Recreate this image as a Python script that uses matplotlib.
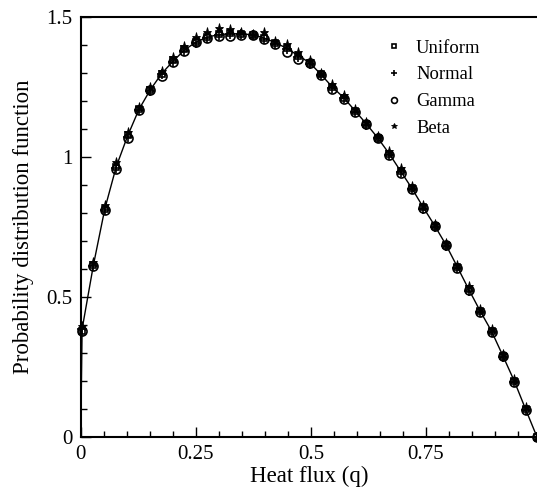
import numpy as np
import matplotlib
matplotlib.use('Agg')
import matplotlib.pyplot as plt
from matplotlib.ticker import MultipleLocator

plt.rcParams['font.family'] = ['Liberation Serif', 'DejaVu Serif']
plt.rcParams['mathtext.fontset'] = 'stix'

# sample points (heat flux)
q = np.linspace(0.003, 0.991, 41)

# fitted pdf (solid line)
pdf_line = [0.385, 0.615, 0.815, 0.965, 1.075, 1.170, 1.240, 1.298, 1.342, 1.382,
            1.410, 1.428, 1.437, 1.440, 1.440, 1.436, 1.425, 1.408, 1.388, 1.362,
            1.337, 1.295, 1.250, 1.212, 1.165, 1.118, 1.068, 1.012, 0.950, 0.888,
            0.820, 0.755, 0.686, 0.607, 0.527, 0.450, 0.378, 0.290, 0.200, 0.099,
            0.0]

uniform = [0.380, 0.615, 0.815, 0.965, 1.078, 1.172, 1.240, 1.298, 1.345, 1.385,
           1.412, 1.430, 1.438, 1.442, 1.440, 1.436, 1.424, 1.408, 1.388, 1.360,
           1.337, 1.295, 1.250, 1.212, 1.165, 1.118, 1.068, 1.012, 0.950, 0.888,
           0.820, 0.755, 0.686, 0.607, 0.527, 0.450, 0.378, 0.290, 0.200, 0.099,
           0.0]
normal = [0.385, 0.612, 0.810, 0.962, 1.070, 1.168, 1.236, 1.295, 1.340, 1.380,
          1.408, 1.426, 1.436, 1.440, 1.440, 1.435, 1.422, 1.405, 1.385, 1.358,
          1.333, 1.292, 1.248, 1.210, 1.162, 1.115, 1.066, 1.008, 0.946, 0.884,
          0.816, 0.750, 0.682, 0.603, 0.523, 0.446, 0.374, 0.286, 0.196, 0.095,
          0.0]
gamma = [0.380, 0.612, 0.812, 0.958, 1.068, 1.168, 1.238, 1.290, 1.338, 1.380,
         1.410, 1.425, 1.432, 1.432, 1.436, 1.434, 1.423, 1.404, 1.376, 1.350,
         1.335, 1.292, 1.243, 1.207, 1.162, 1.117, 1.066, 1.008, 0.943, 0.886,
         0.818, 0.752, 0.685, 0.605, 0.525, 0.448, 0.376, 0.288, 0.198, 0.097,
         0.0]
beta = [0.395, 0.625, 0.830, 0.981, 1.090, 1.180, 1.249, 1.307, 1.358, 1.398,
        1.427, 1.448, 1.462, 1.456, 1.445, 1.440, 1.445, 1.415, 1.402, 1.376,
        1.346, 1.300, 1.262, 1.222, 1.172, 1.125, 1.075, 1.022, 0.962, 0.895,
        0.830, 0.762, 0.694, 0.615, 0.538, 0.458, 0.386, 0.298, 0.208, 0.106,
        0.0]

fig = plt.figure(figsize=(5.37, 4.92), dpi=100)
ax = fig.add_axes([0.1503, 0.1118, 0.8497, 0.8537])

ax.plot(np.concatenate([[0.0], q]), [0.0] + pdf_line, color='black', lw=1.0, zorder=2)
ax.plot(q, uniform, ls='none', marker='s', ms=4.5, mfc='none', mec='black', mew=1.2,
        label='Uniform', clip_on=False)
ax.plot(q, normal, ls='none', marker='+', ms=6.5, color='black', mew=1.2,
        label='Normal', clip_on=False)
ax.plot(q, gamma, ls='none', marker='o', ms=6.5, mfc='none', mec='black', mew=1.2,
        label='Gamma', clip_on=False)
ax.plot(q, beta, ls='none', marker='*', ms=6.5, color='black', mew=0.6,
        label='Beta', clip_on=False)

ax.set_xlim(0, 0.991)
ax.set_ylim(0, 1.5)
ax.xaxis.set_major_locator(MultipleLocator(0.25))
ax.xaxis.set_minor_locator(MultipleLocator(0.05))
ax.yaxis.set_major_locator(MultipleLocator(0.5))
ax.yaxis.set_minor_locator(MultipleLocator(0.1))
ax.set_xticks([0, 0.25, 0.5, 0.75])
ax.set_xticklabels(['0', '0.25', '0.5', '0.75'])
ax.set_yticks([0, 0.5, 1.0, 1.5])
ax.set_yticklabels(['0', '0.5', '1', '1.5'])
ax.tick_params(which='major', direction='in', length=7, width=1.0, labelsize=15, pad=6)
ax.tick_params(which='minor', direction='in', length=4.5, width=1.0)
ax.tick_params(top=False, right=False)
for s in ['left', 'bottom', 'top']:
    ax.spines[s].set_linewidth(1.5)
ax.spines['right'].set_visible(False)

ax.set_xlabel('Heat flux (q)', fontsize=16.5, labelpad=1)
ax.set_ylabel('Probability distribution function', fontsize=16.5, labelpad=9)

ax.legend(loc='upper right', bbox_to_anchor=(0.913, 0.986), frameon=False, fontsize=13.4,
          handlelength=1.0, handletextpad=0.7, labelspacing=0.52, numpoints=1,
          markerscale=0.65)

fig.savefig('out.png', dpi=100)
